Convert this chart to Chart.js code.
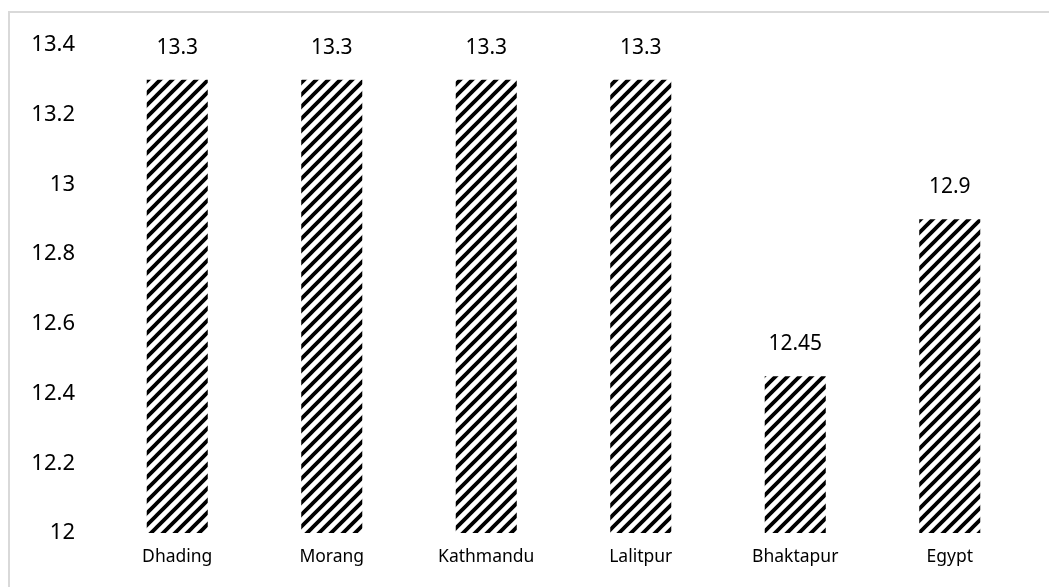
<!DOCTYPE html>
<html>
<head>
<meta charset="utf-8">
<script src="https://cdn.jsdelivr.net/npm/chart.js@4"></script>
<style>
  html, body { margin: 0; padding: 0; background: #fff; }
  #wrap { position: relative; width: 1049px; height: 587px; overflow: hidden; }
  #frame { position: absolute; left: 8px; top: 11px; width: 1100px; height: 700px; border: 2px solid #d9d9d9; box-sizing: border-box; }
  #myChart { position: absolute; left: 0; top: 0; }
</style>
</head>
<body>
<div id="wrap">
  <div id="frame"></div>
  <canvas id="myChart" width="1049" height="587"></canvas>
</div>
<script>
const labels = ['Dhading', 'Morang', 'Kathmandu', 'Lalitpur', 'Bhaktapur', 'Egypt'];
const values = [13.3, 13.3, 13.3, 13.3, 12.45, 12.9];
const valueLabels = ['13.3', '13.3', '13.3', '13.3', '12.45', '12.9'];
const yTicks = [12, 12.2, 12.4, 12.6, 12.8, 13, 13.2, 13.4];

// diagonal hatch like the office "wide upward diagonal" fill
function makeHatch() {
    const n = 12;
    const c = document.createElement('canvas');
    c.width = n;
    c.height = n;
    const g = c.getContext('2d');
    g.strokeStyle = '#000';
    g.lineWidth = 3.8;
    g.beginPath();
    g.moveTo(-2, n + 2); g.lineTo(n + 2, -2);
    g.moveTo(-3, 3); g.lineTo(3, -3);
    g.moveTo(n - 3, n + 3); g.lineTo(n + 3, n - 3);
    g.stroke();
    return g.createPattern(c, 'repeat');
}

const ctx = document.getElementById('myChart');

const valueLabelPlugin = {
    id: 'valueLabels',
    afterDatasetsDraw(chart) {
        const c = chart.ctx;
        const meta = chart.getDatasetMeta(0);
        c.save();
        c.font = '21px "Noto Sans"';
        c.fillStyle = '#000';
        c.textAlign = 'center';
        c.textBaseline = 'middle';
        meta.data.forEach((bar, i) => {
            c.fillText(valueLabels[i], bar.x, bar.y - 32);
        });
        c.restore();
    }
};

new Chart(ctx, {
    type: 'bar',
    data: {
        labels: labels,
        datasets: [{
            data: values,
            backgroundColor: makeHatch(),
            borderWidth: 0,
            categoryPercentage: 1,
            barPercentage: 0.395,
        }]
    },
    plugins: [valueLabelPlugin],
    options: {
        responsive: false,
        animation: false,
        layout: {
            padding: { top: 45, right: 22, bottom: 0, left: 0 }
        },
        plugins: {
            legend: { display: false },
            tooltip: { enabled: false },
        },
        scales: {
            x: {
                grid: { display: false, drawTicks: false },
                border: { display: false },
                ticks: {
                    color: '#000',
                    padding: 14,
                    font: { family: 'Noto Sans', size: 17.5 },
                },
                afterFit: (s) => { s.height = 54; },
            },
            y: {
                min: 12,
                max: 13.4,
                grid: { display: false, drawTicks: false },
                border: { display: false },
                afterBuildTicks: (s) => { s.ticks = yTicks.map(v => ({ value: v })); },
                ticks: {
                    color: '#000',
                    padding: 25,
                    font: { family: 'Noto Sans', size: 22 },
                    callback: function (value) {
                        return String(Math.round(value * 10) / 10);
                    },
                },
                afterFit: (s) => { s.width = 100; },
            }
        }
    }
});
</script>
</body>
</html>
